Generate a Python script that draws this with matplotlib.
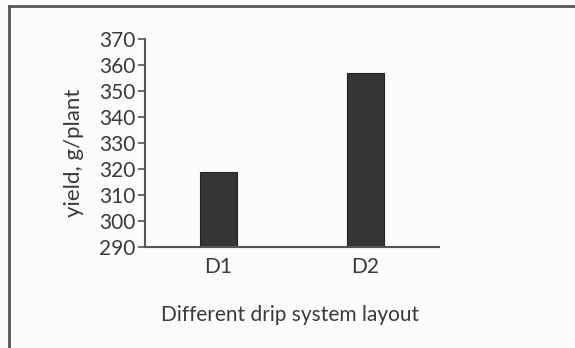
import matplotlib.pyplot as plt
from matplotlib.lines import Line2D

categories = ['D1', 'D2']
yield_values = [319, 357]
y_ticks = [290, 300, 310, 320, 330, 340, 350, 360, 370]

plt.rcParams['font.family'] = ['Lato', 'DejaVu Sans']

fig = plt.figure(figsize=(5.75, 3.48), dpi=100)
fig.patch.set_facecolor('#fbfbfb')
ax = fig.add_axes([0.2522, 0.2902, 0.5113, 0.5977])
ax.set_facecolor('#fbfbfb')

x = range(len(categories))
ax.bar(x, yield_values, width=0.25, color='#353535', edgecolor='#222222', linewidth=0.8)

ax.set_xlim(-0.5, 1.5)
ax.set_ylim(290, 370)
ax.set_yticks(y_ticks)
ax.set_xticks(list(x))
ax.set_xticklabels(categories)
ax.tick_params(axis='x', length=0, labelsize=15, colors='#3a3a3a', pad=7)
ax.tick_params(axis='y', length=5, width=1.2, labelsize=15, colors='#555555',
               labelcolor='#3a3a3a', pad=2)
for s in ['top', 'right']:
    ax.spines[s].set_visible(False)
for s in ['left', 'bottom']:
    ax.spines[s].set_color('#555555')
    ax.spines[s].set_linewidth(1.5)

fig.text(74 / 575, 1 - 153 / 348, 'yield, g/plant', fontsize=16, color='#3a3a3a',
         rotation=90, ha='center', va='center')
fig.text(0.505, 1 - 315 / 348, 'Different drip system layout', fontsize=15,
         color='#3a3a3a', ha='center', va='center')

# frame around the figure (left and top only)
fig.add_artist(Line2D([9 / 575, 9 / 575], [0, 342 / 348], color='#555555', lw=2,
                      transform=fig.transFigure))
fig.add_artist(Line2D([9 / 575, 1], [342 / 348, 342 / 348], color='#555555', lw=2,
                      transform=fig.transFigure))

fig.savefig('out.png', dpi=100, facecolor=fig.get_facecolor())
